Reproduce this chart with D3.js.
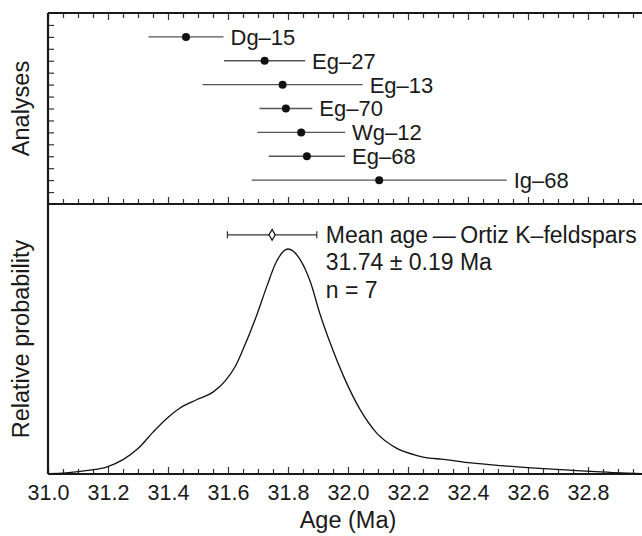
<!DOCTYPE html>
<html>
<head>
	<script src="https://d3js.org/d3.v7.min.js"></script>
	<style>
		body { margin: 0; background: #fff; }
		text { font-family: "Liberation Sans", Arial, sans-serif; fill: #1a1a1a; }
		.axis path { display: none; }
		.axis line { stroke: #333; stroke-width: 1.2; }
	</style>
</head>
<body>
<script>
	// analyses (top panel)
	var names = ["Dg\u201315", "Eg\u201327", "Eg\u201313", "Eg\u201370", "Wg\u201312", "Eg\u201368", "Ig\u201368"];
	var ages = [31.46, 31.722, 31.782, 31.793, 31.844, 31.863, 32.104];
	var errs = [0.125, 0.135, 0.267, 0.088, 0.146, 0.127, 0.425];

	// relative probability curve (bottom panel)
	var curveAge = [31.0, 31.06, 31.14, 31.195, 31.25, 31.3, 31.35, 31.395, 31.44, 31.495, 31.55, 31.59, 31.625,
		31.65, 31.695, 31.73, 31.76, 31.8, 31.84, 31.875, 31.905, 31.94, 31.985, 32.04, 32.095, 32.16,
		32.23, 32.27, 32.31, 32.41, 32.51, 32.61, 32.71, 32.81, 32.91, 33.0];
	var curveProb = [0.002, 0.005, 0.017, 0.031, 0.064, 0.113, 0.186, 0.246, 0.293, 0.33, 0.364, 0.413, 0.48,
		0.553, 0.703, 0.836, 0.94, 1.0, 0.954, 0.852, 0.718, 0.584, 0.435, 0.287, 0.183, 0.116,
		0.082, 0.071, 0.066, 0.049, 0.037, 0.027, 0.019, 0.012, 0.005, 0.001];

	// weighted mean
	var meanAge = 31.747;
	var meanErr = 0.149;
	var meanLevel = 1.063;
	var meanText = ["Mean age\u2009\u2014\u2009Ortiz K\u2013feldspars", "31.74 \u00b1 0.19 Ma", "n = 7"];

	var xTicks = [31.0, 31.2, 31.4, 31.6, 31.8, 32.0, 32.2, 32.4, 32.6, 32.8];

	var W = 642, H = 536;
	var x0 = 48, x1 = 648, yTop = 13, yMid = 204, yBot = 474;

	var svg = d3.select("body").append("svg")
		.attr("width", W).attr("height", H);

	var x = d3.scaleLinear().domain([31.0, 33.0]).range([x0, x1]);
	var yRow = d3.scaleLinear().domain([0, 8]).range([yTop, yMid]);
	var yProb = d3.scaleLinear().domain([0, 1.2]).range([yBot, yMid]);

	var minor = d3.range(31.05, 33.0, 0.05).map(function(v){ return +v.toFixed(2); })
		.filter(function(v){ return xTicks.indexOf(v) < 0; });

	function tickAxis(axisFn, y, size, vals){
		svg.append("g").attr("class", "axis")
			.attr("transform", "translate(0," + y + ")")
			.call(axisFn(x).tickValues(vals).tickSize(size).tickFormat(""));
	}
	// top panel ticks
	tickAxis(d3.axisTop, yTop, -7, xTicks);
	tickAxis(d3.axisTop, yTop, -5, minor);
	tickAxis(d3.axisBottom, yMid, -7, xTicks);
	tickAxis(d3.axisBottom, yMid, -5, minor);
	// bottom axis
	tickAxis(d3.axisBottom, yBot, -5, minor);
	var xa = svg.append("g").attr("class", "axis")
		.attr("transform", "translate(0," + yBot + ")")
		.call(d3.axisBottom(x).tickValues(xTicks).tickSize(-7).tickPadding(11)
			.tickFormat(d3.format(".1f")));
	xa.selectAll("text").style("font-size", "21.5px");

	// left ticks of analyses panel
	svg.append("g").attr("class", "axis")
		.attr("transform", "translate(" + x0 + ",0)")
		.call(d3.axisLeft(yRow).tickValues(d3.range(0.5, 8, 0.5)).tickSize(-6).tickFormat(""));

	// frame
	var frame = [[x0, yTop, x1, yTop], [x0, yMid, x1, yMid], [x0, yBot, x1, yBot], [x0, yTop, x0, yBot]];
	svg.selectAll("line.frame").data(frame).enter().append("line")
		.attr("class", "frame")
		.attr("x1", function(d){ return d[0]; }).attr("y1", function(d){ return d[1]; })
		.attr("x2", function(d){ return d[2]; }).attr("y2", function(d){ return d[3]; })
		.style("stroke", "#1a1a1a").style("stroke-width", 2.2);

	// analyses
	var rows = svg.selectAll("g.row").data(names).enter().append("g").attr("class", "row");
	rows.append("line")
		.attr("x1", function(d, i){ return x(ages[i] - errs[i]); })
		.attr("x2", function(d, i){ return x(ages[i] + errs[i]); })
		.attr("y1", function(d, i){ return yRow(i + 1); })
		.attr("y2", function(d, i){ return yRow(i + 1); })
		.style("stroke", "#555").style("stroke-width", 1.3);
	rows.append("circle")
		.attr("cx", function(d, i){ return x(ages[i]); })
		.attr("cy", function(d, i){ return yRow(i + 1); })
		.attr("r", 4).style("fill", "#111");
	rows.append("text")
		.attr("x", function(d, i){ return x(ages[i] + errs[i]) + 7; })
		.attr("y", function(d, i){ return yRow(i + 1); })
		.attr("dy", "0.36em")
		.style("font-size", "22px")
		.text(function(d){ return d; });

	// probability curve
	var line = d3.line()
		.x(function(d, i){ return x(curveAge[i]); })
		.y(function(d){ return yProb(d); })
		.curve(d3.curveMonotoneX);
	svg.append("path").datum(curveProb)
		.attr("d", line)
		.style("fill", "none").style("stroke", "#111").style("stroke-width", 1.3);

	// mean with error bar
	var my = yProb(meanLevel);
	svg.append("line")
		.attr("x1", x(meanAge - meanErr)).attr("x2", x(meanAge + meanErr))
		.attr("y1", my).attr("y2", my)
		.style("stroke", "#333").style("stroke-width", 1.2);
	[meanAge - meanErr, meanAge + meanErr].forEach(function(v){
		svg.append("line")
			.attr("x1", x(v)).attr("x2", x(v))
			.attr("y1", my - 3.5).attr("y2", my + 3.5)
			.style("stroke", "#333").style("stroke-width", 1.2);
	});
	svg.append("path")
		.attr("d", d3.symbol().type(d3.symbolDiamond).size(34))
		.attr("transform", "translate(" + x(meanAge) + "," + my + ")")
		.style("fill", "#fff").style("stroke", "#111").style("stroke-width", 1.2);
	svg.selectAll("text.mean").data(meanText).enter().append("text")
		.attr("class", "mean")
		.attr("x", x(meanAge + meanErr) + 9)
		.attr("y", function(d, i){ return my + 8 + i * 27.5; })
		.style("font-size", "23px")
		.text(function(d){ return d; });

	// axis titles
	svg.append("text")
		.attr("x", (x0 + x1) / 2).attr("y", 528)
		.attr("text-anchor", "middle").style("font-size", "23.5px")
		.text("Age (Ma)");
	svg.append("text")
		.attr("transform", "translate(29," + ((yTop + yMid) / 2) + ") rotate(-90)")
		.attr("text-anchor", "middle").style("font-size", "23.5px")
		.text("Analyses");
	svg.append("text")
		.attr("transform", "translate(29," + ((yMid + yBot) / 2) + ") rotate(-90)")
		.attr("text-anchor", "middle").style("font-size", "23.5px")
		.text("Relative probability");
</script>
</body>
</html>
